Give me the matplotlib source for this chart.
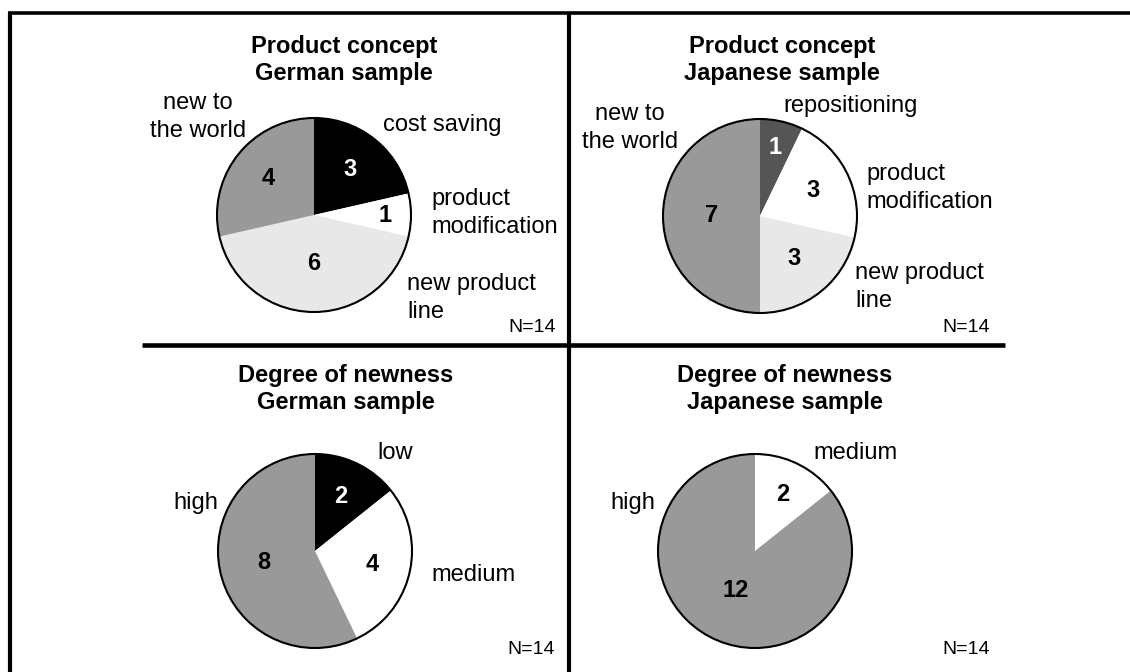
import matplotlib
matplotlib.use("Agg")
import matplotlib.pyplot as plt
from matplotlib.patches import Circle

plt.rcParams['font.family'] = ['Liberation Sans', 'DejaVu Sans']

# data
german_concept_labels = ['cost saving', 'product\nmodification', 'new product\nline', 'new to\nthe world']
german_concept_counts = [3, 1, 6, 4]
japanese_concept_labels = ['repositioning', 'product\nmodification', 'new product\nline', 'new to\nthe world']
japanese_concept_counts = [1, 3, 3, 7]
german_newness_labels = ['low', 'medium', 'high']
german_newness_counts = [2, 4, 8]
japanese_newness_labels = ['medium', 'high']
japanese_newness_counts = [2, 12]

colour_of = {
    'cost saving': 'black',
    'repositioning': '#555555',
    'product\nmodification': 'white',
    'new product\nline': '#e8e8e8',
    'new to\nthe world': '#999999',
    'low': 'black',
    'medium': 'white',
    'high': '#999999',
}
dark = ['black', '#555555']

W, H = 1130, 672
FS = 17
LINE = 28  # px between lines of a label

fig = plt.figure(figsize=(W / 100, H / 100), dpi=100)
ax = fig.add_axes([0, 0, 1, 1])


def Y(y):
    # picture rows run downwards, the axes upwards
    return H - y


# (title, labels, counts, centre, title pos, label pos, number distances, N pos)
panels = [
    ('Product concept\nGerman sample', german_concept_labels, german_concept_counts,
     (314, 215), (344, 60),
     [(383, 125, 'left'), (431, 213, 'left'), (407, 298, 'left'), (198, 117, 'center')],
     [0.6, 0.73, 0.5, 0.6], (556, 327)),
    ('Product concept\nJapanese sample', japanese_concept_labels, japanese_concept_counts,
     (760, 216), (782, 60),
     [(783, 106, 'left'), (866, 188, 'left'), (855, 287, 'left'), (630, 128, 'center')],
     [0.72, 0.61, 0.56, 0.5], (990, 327)),
    ('Degree of newness\nGerman sample', german_newness_labels, german_newness_counts,
     (315, 551), (346, 389),
     [(377, 453, 'left'), (431, 575, 'left'), (218, 503, 'right')],
     [0.62, 0.61, 0.54], (555, 650)),
    ('Degree of newness\nJapanese sample', japanese_newness_labels, japanese_newness_counts,
     (755, 551), (785, 389),
     [(813, 453, 'left'), (655, 503, 'right')],
     [0.65, 0.45], (990, 650)),
]

R = 97
for title, labels, counts, (cx, cy), (tx, ty), lab_pos, dists, (nx, ny) in panels:
    total = sum(counts)
    cols = [colour_of[l] for l in labels]
    wedges, texts, autotexts = ax.pie(
        counts, colors=cols, startangle=90, counterclock=False,
        radius=R, center=(cx, Y(cy)),
        wedgeprops=dict(linewidth=0),
        autopct=lambda p, t=total: f'{p * t / 100:.0f}', pctdistance=0.6,
        textprops=dict(fontsize=FS, fontweight='bold'))
    for at, d, c in zip(autotexts, dists, cols):
        x, y = at.get_position()
        at.set_position((cx + (x - cx) * d / 0.6, Y(cy) + (y - Y(cy)) * d / 0.6))
        if c in dark:
            at.set_color('white')
    ax.add_patch(Circle((cx, Y(cy)), R, fill=False, ec='black', lw=1.5))

    ax.text(tx, Y(ty), title, ha='center', va='center', fontsize=FS,
            fontweight='bold', linespacing=1.2)
    for l, (lx, ly, ha) in zip(labels, lab_pos):
        rows = l.split('\n')
        for i, row in enumerate(rows):
            off = (i - (len(rows) - 1) / 2) * LINE
            ax.text(lx, Y(ly + off), row, ha=ha, va='center', fontsize=FS)
    ax.text(nx, Y(ny), f'N={total}', ha='right', va='center', fontsize=FS - 3)

# frame lines
ax.plot([8, W], [Y(13), Y(13)], color='black', lw=2.6, solid_capstyle='butt')
ax.plot([10, 10], [Y(13), 0], color='black', lw=3, solid_capstyle='butt')
ax.plot([569, 569], [Y(13), 0], color='black', lw=3, solid_capstyle='butt')
ax.plot([142, 1005], [Y(344.5), Y(344.5)], color='black', lw=3.3, solid_capstyle='butt')

ax.set_xlim(0, W)
ax.set_ylim(0, H)
ax.set_aspect('equal')
ax.axis('off')

fig.savefig('out.png', dpi=100)
